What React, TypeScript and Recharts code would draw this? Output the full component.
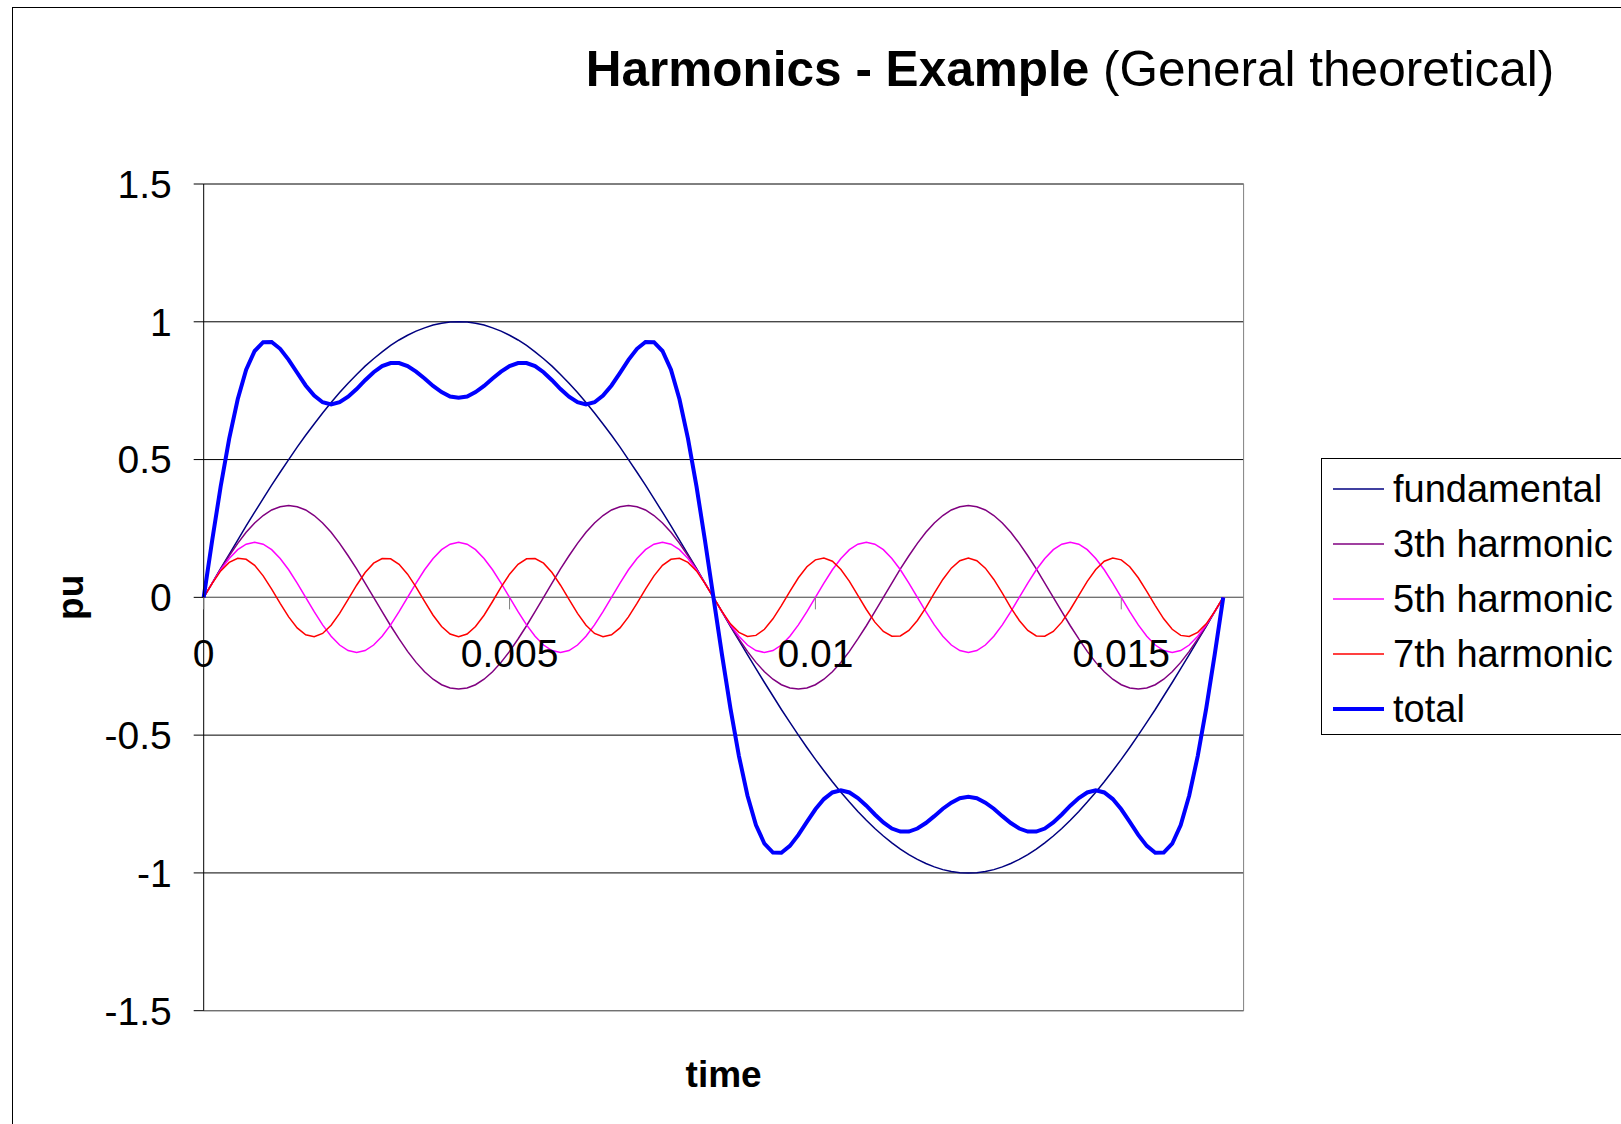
import { LineChart, Line, XAxis, YAxis, CartesianGrid, ReferenceLine, ReferenceDot, Legend } from 'recharts'

// time axis (s), one 60 Hz period sampled every 3 degrees
const TIME = [
  0, 0.000139, 0.000278, 0.000417, 0.000556, 0.000694, 0.000833, 0.000972, 0.001111, 0.00125,
  0.001389, 0.001528, 0.001667, 0.001806, 0.001944, 0.002083, 0.002222, 0.002361, 0.0025, 0.002639,
  0.002778, 0.002917, 0.003056, 0.003194, 0.003333, 0.003472, 0.003611, 0.00375, 0.003889, 0.004028,
  0.004167, 0.004306, 0.004444, 0.004583, 0.004722, 0.004861, 0.005, 0.005139, 0.005278, 0.005417,
  0.005556, 0.005694, 0.005833, 0.005972, 0.006111, 0.00625, 0.006389, 0.006528, 0.006667, 0.006806,
  0.006944, 0.007083, 0.007222, 0.007361, 0.0075, 0.007639, 0.007778, 0.007917, 0.008056, 0.008194,
  0.008333, 0.008472, 0.008611, 0.00875, 0.008889, 0.009028, 0.009167, 0.009306, 0.009444, 0.009583,
  0.009722, 0.009861, 0.01, 0.010139, 0.010278, 0.010417, 0.010556, 0.010694, 0.010833, 0.010972,
  0.011111, 0.01125, 0.011389, 0.011528, 0.011667, 0.011806, 0.011944, 0.012083, 0.012222, 0.012361,
  0.0125, 0.012639, 0.012778, 0.012917, 0.013056, 0.013194, 0.013333, 0.013472, 0.013611, 0.01375,
  0.013889, 0.014028, 0.014167, 0.014306, 0.014444, 0.014583, 0.014722, 0.014861, 0.015, 0.015139,
  0.015278, 0.015417, 0.015556, 0.015694, 0.015833, 0.015972, 0.016111, 0.01625, 0.016389, 0.016528,
  0.016667,
]

const FUNDAMENTAL = [
  0, 0.052, 0.105, 0.156, 0.208, 0.259, 0.309, 0.358, 0.407, 0.454,
  0.5, 0.545, 0.588, 0.629, 0.669, 0.707, 0.743, 0.777, 0.809, 0.839,
  0.866, 0.891, 0.914, 0.934, 0.951, 0.966, 0.978, 0.988, 0.995, 0.999,
  1, 0.999, 0.995, 0.988, 0.978, 0.966, 0.951, 0.934, 0.914, 0.891,
  0.866, 0.839, 0.809, 0.777, 0.743, 0.707, 0.669, 0.629, 0.588, 0.545,
  0.5, 0.454, 0.407, 0.358, 0.309, 0.259, 0.208, 0.156, 0.105, 0.052,
  0, -0.052, -0.105, -0.156, -0.208, -0.259, -0.309, -0.358, -0.407, -0.454,
  -0.5, -0.545, -0.588, -0.629, -0.669, -0.707, -0.743, -0.777, -0.809, -0.839,
  -0.866, -0.891, -0.914, -0.934, -0.951, -0.966, -0.978, -0.988, -0.995, -0.999,
  -1, -0.999, -0.995, -0.988, -0.978, -0.966, -0.951, -0.934, -0.914, -0.891,
  -0.866, -0.839, -0.809, -0.777, -0.743, -0.707, -0.669, -0.629, -0.588, -0.545,
  -0.5, -0.454, -0.407, -0.358, -0.309, -0.259, -0.208, -0.156, -0.105, -0.052,
  0,
]

const HARMONIC_3 = [
  0, 0.052, 0.103, 0.151, 0.196, 0.236, 0.27, 0.297, 0.317, 0.329,
  0.333, 0.329, 0.317, 0.297, 0.27, 0.236, 0.196, 0.151, 0.103, 0.052,
  0, -0.052, -0.103, -0.151, -0.196, -0.236, -0.27, -0.297, -0.317, -0.329,
  -0.333, -0.329, -0.317, -0.297, -0.27, -0.236, -0.196, -0.151, -0.103, -0.052,
  0, 0.052, 0.103, 0.151, 0.196, 0.236, 0.27, 0.297, 0.317, 0.329,
  0.333, 0.329, 0.317, 0.297, 0.27, 0.236, 0.196, 0.151, 0.103, 0.052,
  0, -0.052, -0.103, -0.151, -0.196, -0.236, -0.27, -0.297, -0.317, -0.329,
  -0.333, -0.329, -0.317, -0.297, -0.27, -0.236, -0.196, -0.151, -0.103, -0.052,
  0, 0.052, 0.103, 0.151, 0.196, 0.236, 0.27, 0.297, 0.317, 0.329,
  0.333, 0.329, 0.317, 0.297, 0.27, 0.236, 0.196, 0.151, 0.103, 0.052,
  0, -0.052, -0.103, -0.151, -0.196, -0.236, -0.27, -0.297, -0.317, -0.329,
  -0.333, -0.329, -0.317, -0.297, -0.27, -0.236, -0.196, -0.151, -0.103, -0.052,
  0,
]

const HARMONIC_5 = [
  0, 0.052, 0.1, 0.141, 0.173, 0.193, 0.2, 0.193, 0.173, 0.141,
  0.1, 0.052, 0, -0.052, -0.1, -0.141, -0.173, -0.193, -0.2, -0.193,
  -0.173, -0.141, -0.1, -0.052, 0, 0.052, 0.1, 0.141, 0.173, 0.193,
  0.2, 0.193, 0.173, 0.141, 0.1, 0.052, 0, -0.052, -0.1, -0.141,
  -0.173, -0.193, -0.2, -0.193, -0.173, -0.141, -0.1, -0.052, 0, 0.052,
  0.1, 0.141, 0.173, 0.193, 0.2, 0.193, 0.173, 0.141, 0.1, 0.052,
  0, -0.052, -0.1, -0.141, -0.173, -0.193, -0.2, -0.193, -0.173, -0.141,
  -0.1, -0.052, 0, 0.052, 0.1, 0.141, 0.173, 0.193, 0.2, 0.193,
  0.173, 0.141, 0.1, 0.052, 0, -0.052, -0.1, -0.141, -0.173, -0.193,
  -0.2, -0.193, -0.173, -0.141, -0.1, -0.052, 0, 0.052, 0.1, 0.141,
  0.173, 0.193, 0.2, 0.193, 0.173, 0.141, 0.1, 0.052, 0, -0.052,
  -0.1, -0.141, -0.173, -0.193, -0.2, -0.193, -0.173, -0.141, -0.1, -0.052,
  0,
]

const HARMONIC_7 = [
  0, 0.051, 0.096, 0.127, 0.142, 0.138, 0.116, 0.078, 0.03, -0.022,
  -0.071, -0.111, -0.136, -0.143, -0.131, -0.101, -0.058, -0.007, 0.044, 0.09,
  0.124, 0.141, 0.14, 0.12, 0.084, 0.037, -0.015, -0.065, -0.106, -0.133,
  -0.143, -0.133, -0.106, -0.065, -0.015, 0.037, 0.084, 0.12, 0.14, 0.141,
  0.124, 0.09, 0.044, -0.007, -0.058, -0.101, -0.131, -0.143, -0.136, -0.111,
  -0.071, -0.022, 0.03, 0.078, 0.116, 0.138, 0.142, 0.127, 0.096, 0.051,
  0, -0.051, -0.096, -0.127, -0.142, -0.138, -0.116, -0.078, -0.03, 0.022,
  0.071, 0.111, 0.136, 0.143, 0.131, 0.101, 0.058, 0.007, -0.044, -0.09,
  -0.124, -0.141, -0.14, -0.12, -0.084, -0.037, 0.015, 0.065, 0.106, 0.133,
  0.143, 0.133, 0.106, 0.065, 0.015, -0.037, -0.084, -0.12, -0.14, -0.141,
  -0.124, -0.09, -0.044, 0.007, 0.058, 0.101, 0.131, 0.143, 0.136, 0.111,
  0.071, 0.022, -0.03, -0.078, -0.116, -0.138, -0.142, -0.127, -0.096, -0.051,
  0,
]

const TOTAL = [
  0, 0.207, 0.403, 0.576, 0.719, 0.826, 0.894, 0.926, 0.927, 0.902,
  0.862, 0.815, 0.769, 0.732, 0.708, 0.7, 0.708, 0.728, 0.756, 0.788,
  0.817, 0.839, 0.85, 0.85, 0.839, 0.819, 0.794, 0.767, 0.745, 0.729,
  0.724, 0.729, 0.745, 0.767, 0.794, 0.819, 0.839, 0.85, 0.85, 0.839,
  0.817, 0.788, 0.756, 0.728, 0.708, 0.7, 0.708, 0.732, 0.769, 0.815,
  0.862, 0.902, 0.927, 0.926, 0.894, 0.826, 0.719, 0.576, 0.403, 0.207,
  0, -0.207, -0.403, -0.576, -0.719, -0.826, -0.894, -0.926, -0.927, -0.902,
  -0.862, -0.815, -0.769, -0.732, -0.708, -0.7, -0.708, -0.728, -0.756, -0.788,
  -0.817, -0.839, -0.85, -0.85, -0.839, -0.819, -0.794, -0.767, -0.745, -0.729,
  -0.724, -0.729, -0.745, -0.767, -0.794, -0.819, -0.839, -0.85, -0.85, -0.839,
  -0.817, -0.788, -0.756, -0.728, -0.708, -0.7, -0.708, -0.732, -0.769, -0.815,
  -0.862, -0.902, -0.927, -0.926, -0.894, -0.826, -0.719, -0.576, -0.403, -0.207,
  0,
]

const X_TICKS = [0, 0.005, 0.01, 0.015]
const X_TICK_LABELS = ['0', '0.005', '0.01', '0.015']
const Y_TICKS = [-1.5, -1, -0.5, 0, 0.5, 1, 1.5]

const SERIES = [
  { key: 'fundamental', name: 'fundamental', color: '#000080', width: 1.5 },
  { key: 'h3', name: '3th harmonic', color: '#800080', width: 1.5 },
  { key: 'h5', name: '5th harmonic', color: '#ff00ff', width: 1.5 },
  { key: 'h7', name: '7th harmonic', color: '#ff0000', width: 1.5 },
  { key: 'total', name: 'total', color: '#0000ff', width: 4 },
]

const data = TIME.map((t, i) => ({
  t,
  fundamental: FUNDAMENTAL[i],
  h3: HARMONIC_3[i],
  h5: HARMONIC_5[i],
  h7: HARMONIC_7[i],
  total: TOTAL[i],
}))

const FONT = '"Liberation Sans", Arial, Helvetica, sans-serif'
const GRAY = '#808080'

function LegendBox({ payload }: any) {
  // keep the series order, not the alphabetical one
  const items = SERIES.map(s => ({ s, p: (payload || []).find((p: any) => p.dataKey === s.key) })).filter(x => x.p)
  return (
    <div style={{ boxSizing: 'border-box', width: 400, height: 277, border: '1px solid #000', background: '#fff', paddingTop: 2, paddingLeft: 11 }}>
      {items.map(({ s, p }: any) => (
        <div key={s.key} style={{ height: 55, display: 'flex', alignItems: 'center' }}>
          <svg width={51} height={10} style={{ display: 'block' }}>
            <line x1={0} y1={5} x2={51} y2={5} stroke={p.color} strokeWidth={s.width} />
          </svg>
          <span style={{ marginLeft: 9, fontSize: 38, lineHeight: '38px', color: '#000', fontFamily: FONT, whiteSpace: 'nowrap' }}>{p.value}</span>
        </div>
      ))}
    </div>
  )
}

// tick mark + label drawn on the zero line, where the value axis crosses
const xTickShape = (label: string) => (props: any) => (
  <g>
    <line x1={props.cx} y1={props.cy} x2={props.cx} y2={props.cy + 12} stroke={GRAY} strokeWidth={1} />
    <text x={props.cx} y={props.cy + 70} textAnchor="middle" fontSize={39} fill="#000" fontFamily={FONT}>{label}</text>
  </g>
)

export default function App() {
  return (
    <div style={{ position: 'absolute', left: 0, top: 0, width: 1621, height: 1124, overflow: 'hidden', background: '#fff', fontFamily: FONT }}>
      <div style={{ position: 'absolute', left: 12, top: 7, width: 1800, height: 1300, border: '1px solid #000' }} />

      <div style={{ position: 'absolute', left: 470, top: 44, width: 1200, textAlign: 'center', fontSize: 49.5, lineHeight: '49.5px', color: '#000', whiteSpace: 'nowrap' }}>
        <b>Harmonics - Example</b> (General theoretical)
      </div>

      <div style={{ position: 'absolute', left: 0, top: 0 }}>
        <LineChart width={1621} height={1124} data={data} margin={{ top: 184, right: 377.4, bottom: 33.3, left: 0 }}>
          <CartesianGrid vertical={false} stroke="#000" strokeWidth={1} />
          <XAxis
            type="number"
            dataKey="t"
            domain={[0, 0.017]}
            ticks={X_TICKS}
            tick={false}
            tickLine={false}
            axisLine={false}
            height={80}
            label={{ value: 'time', position: 'insideTop', offset: 50, style: { fontWeight: 'bold', fontSize: 37, fill: '#000', fontFamily: FONT } }}
          />
          <ReferenceLine y={1.5} stroke={GRAY} strokeWidth={1} />
          <ReferenceLine y={-1.5} stroke={GRAY} strokeWidth={1} />
          <ReferenceLine x={0.017} stroke={GRAY} strokeWidth={1} />
          <ReferenceLine y={0} stroke={GRAY} strokeWidth={1} />
          <YAxis
            type="number"
            domain={[-1.5, 1.5]}
            ticks={Y_TICKS}
            width={203.7}
            tickSize={10}
            tickMargin={22}
            axisLine={{ stroke: '#000' }}
            tickLine={{ stroke: '#000' }}
            tick={{ fontSize: 39, fill: '#000', fontFamily: FONT }}
            label={{ value: 'pu', angle: -90, position: 'insideLeft', offset: 70, style: { textAnchor: 'middle', fontWeight: 'bold', fontSize: 37, fill: '#000', fontFamily: FONT } }}
          />
          {SERIES.map(s => (
            <Line
              key={s.key}
              type="linear"
              dataKey={s.key}
              name={s.name}
              stroke={s.color}
              strokeWidth={s.width}
              dot={false}
              activeDot={false}
              isAnimationActive={false}
            />
          ))}
          {X_TICKS.map((t, i) => (
            <ReferenceDot key={t} x={t} y={0} r={0} shape={xTickShape(X_TICK_LABELS[i])} />
          ))}
          <Legend
            layout="vertical"
            align="center"
            verticalAlign="middle"
            content={<LegendBox />}
            wrapperStyle={{ left: 1321, top: 458, width: 400, height: 277 }}
          />
        </LineChart>
      </div>
    </div>
  )
}
